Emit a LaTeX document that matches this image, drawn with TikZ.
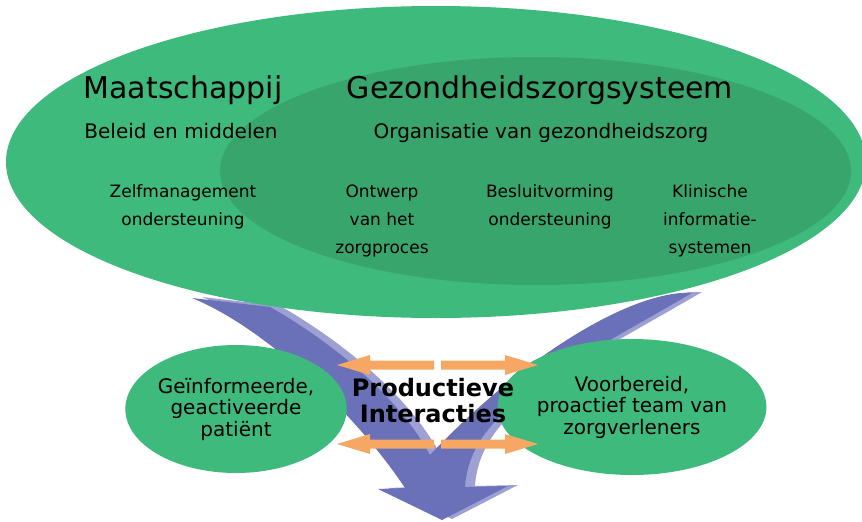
\documentclass[tikz,border=0pt]{standalone}
\usepackage{fontspec}
\setmainfont{DejaVu Sans}
\usetikzlibrary{shapes.geometric}
\definecolor{outergreen}{RGB}{62,186,125}
\definecolor{innergreen}{RGB}{55,165,108}
\definecolor{banddark}{RGB}{106,113,184}
\definecolor{bandlight}{RGB}{156,160,211}
\definecolor{interorange}{RGB}{247,167,100}

\begin{document}
\begin{tikzpicture}[x=1pt,y=-1pt,
  title/.style={font=\fontsize{30}{36}\selectfont,anchor=base,inner sep=0},
  subtitle/.style={font=\fontsize{20}{24}\selectfont,anchor=base,inner sep=0},
  item/.style={font=\fontsize{17}{28}\selectfont,align=center,inner sep=0},
  actor/.style={ellipse,fill=outergreen,inner sep=0,align=center,
    font=\fontsize{20}{21.5}\selectfont},
  band/.style={fill=banddark},
  bandshade/.style={fill=bandlight},
  interarrow/.style={fill=interorange}]
\useasboundingbox (0,0) rectangle (862,522);
% merging arrow (shade first, then the arrow itself)
\fill[bandshade,shift={(10,-1)}] (192,298) -- (270,307)
  .. controls (320,335) and (395,390) .. (430,455)
  .. controls (520,360) and (620,298) .. (681,293) -- (692,293)
  .. controls (560,370) and (470,410) .. (465,487) -- (508,486)
  -- (442,520) -- (378,489) -- (405,488)
  .. controls (360,420) and (270,330) .. (192,298) -- cycle;
\fill[band] (192,298) -- (270,307)
  .. controls (320,335) and (395,390) .. (430,455)
  .. controls (520,360) and (620,298) .. (681,293) -- (692,293)
  .. controls (560,370) and (470,410) .. (465,487) -- (508,486)
  -- (442,520) -- (378,489) -- (405,488)
  .. controls (360,420) and (270,330) .. (192,298) -- cycle;
% community and health system
\fill[outergreen] (436,162) ellipse (430 and 156);
\fill[innergreen] (535.5,171) ellipse (315.5 and 114);
\node[title] (community) at (183,98) {Maatschappij};
\node[title] (healthsys) at (540,98) {Gezondheidszorgsysteem};
\node[subtitle] (resources) at (181,138) {Beleid en middelen};
\node[subtitle] (organisation) at (541,138) {Organisatie van gezondheidszorg};
\node[item] (selfmgmt) at (183,206.5) {Zelfmanagement\\ondersteuning};
\node[item] (delivery) at (382,220.5) {Ontwerp\\van het\\zorgproces};
\node[item] (decision) at (550,206.5) {Besluitvorming\\ondersteuning};
\node[item] (clinical) at (710,220.5) {Klinische\\informatie-\\systemen};
% patient and team
\node[actor,minimum width=210,minimum height=128] (patient) at (236,409)
  {Geïnformeerde,\\geactiveerde\\patiënt};
\node[actor,minimum width=220,minimum height=136] (team) at (632,407)
  {Voorbereid,\\proactief team van\\zorgverleners};
% interactions
\fill[interarrow] (434,360.5) -- (370,360.5) -- (370,355) -- (337,365)
  -- (370,375) -- (370,369.5) -- (434,369.5) -- cycle;
\fill[interarrow] (441,360.5) -- (505,360.5) -- (505,355) -- (538,365)
  -- (505,375) -- (505,369.5) -- (441,369.5) -- cycle;
\fill[interarrow] (434,439.5) -- (370,439.5) -- (370,434) -- (337,444)
  -- (370,454) -- (370,448.5) -- (434,448.5) -- cycle;
\fill[interarrow] (441,439.5) -- (505,439.5) -- (505,434) -- (538,444)
  -- (505,454) -- (505,448.5) -- (441,448.5) -- cycle;
\node[font=\fontsize{24}{26}\selectfont\bfseries,align=center,inner sep=0]
  (interactions) at (433,401) {Productieve\\Interacties};
\end{tikzpicture}
\end{document}
